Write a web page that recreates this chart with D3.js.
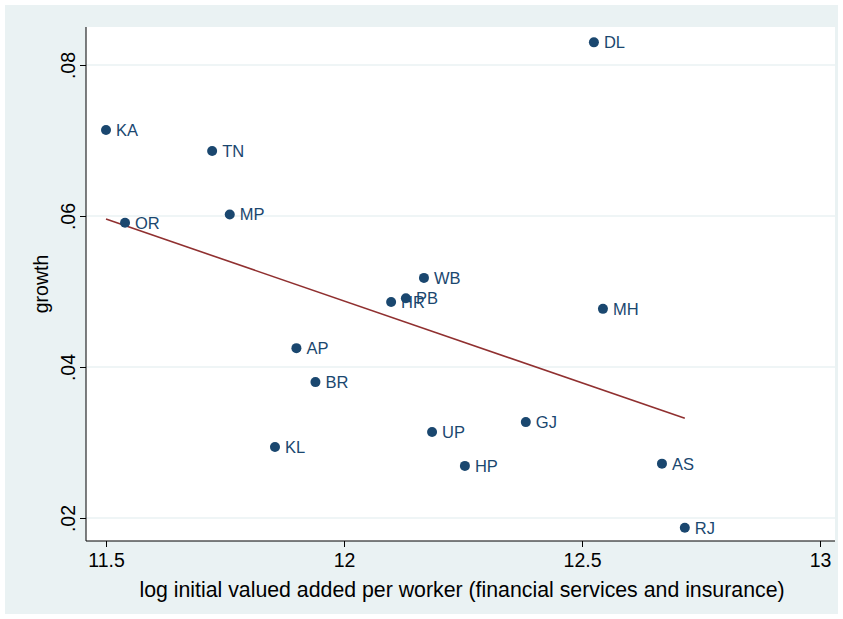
<!DOCTYPE html>
<html><head><meta charset="utf-8">
<script src="https://cdn.jsdelivr.net/npm/d3@7"></script>
<style>body{margin:0;background:#fff}text{font-family:"Liberation Sans",Arial,sans-serif}</style>
</head><body><svg id="c" width="843" height="619"></svg>
<script>
const states = ["DL","KA","TN","MP","OR","WB","PB","HR","MH","AP","BR","GJ","UP","KL","HP","AS","RJ"];
const logVA = [12.525,11.5,11.723,11.76,11.54,12.168,12.13,12.099,12.544,11.90,11.94,12.382,12.185,11.855,12.254,12.668,12.716];
const growth = [.0830,.0714,.0686,.0602,.0591,.0518,.0491,.0486,.0477,.0425,.0380,.0327,.0314,.0294,.0269,.0272,.0187];
const fitX = [11.5,12.716];
const fitY = [.0596,.0332];
const xTicks = [11.5,12,12.5,13];
const yTicks = [.02,.04,.06,.08];

const svg = d3.select("#c");
svg.append("rect").attr("x",5).attr("y",5).attr("width",833).attr("height",609).attr("fill","#eaf2f3");
const m = {l:86,r:835,t:27,b:541};
svg.append("rect").attr("x",m.l).attr("y",m.t).attr("width",m.r-m.l).attr("height",m.b-m.t).attr("fill","#fff");
const x = d3.scaleLinear().domain([11.5,13]).range([106,820]);
const y = d3.scaleLinear().domain([.02,.08]).range([518,65]);
svg.append("g").selectAll("line").data(yTicks).join("line")
  .attr("x1",m.l).attr("x2",m.r).attr("y1",d=>y(d)).attr("y2",d=>y(d)).attr("stroke","#eaf2f3").attr("stroke-width",1.5);
const fmtY = d=>d3.format(".2f")(d).replace(/^0/,"");
const gx = svg.append("g").attr("transform",`translate(0,${m.b})`)
  .call(d3.axisBottom(x).tickValues(xTicks).tickFormat(d=>String(d)).tickSize(6).tickSizeOuter(0));
gx.select(".domain").attr("d",`M${m.l},0H${m.r}`);
gx.selectAll("text").attr("font-size",19.5).attr("fill","#000").attr("dy","0.85em");
const gy = svg.append("g").attr("transform",`translate(${m.l},0)`)
  .call(d3.axisLeft(y).tickValues(yTicks).tickFormat(fmtY).tickSize(6).tickSizeOuter(0));
gy.select(".domain").attr("d",`M0,${m.t}V${m.b}`);
gy.selectAll("text").attr("font-size",19.5).attr("fill","#000")
  .attr("x",0).attr("y",0).attr("dy",0).attr("text-anchor","middle")
  .attr("transform","translate(-11,0) rotate(-90)");
svg.append("text").attr("x",462).attr("y",597).attr("text-anchor","middle").attr("font-size",21.3)
  .text("log initial valued added per worker (financial services and insurance)");
svg.append("text").attr("transform",`translate(48,${(m.t+m.b)/2}) rotate(-90)`).attr("text-anchor","middle").attr("font-size",19.5).text("growth");
svg.append("line").attr("x1",x(fitX[0])).attr("y1",y(fitY[0])).attr("x2",x(fitX[1])).attr("y2",y(fitY[1]))
  .attr("stroke","#903030").attr("stroke-width",1.6);
const pts = states.map((s,i)=>({s,x:logVA[i],y:growth[i]}));
svg.append("g").selectAll("circle").data(pts).join("circle")
  .attr("cx",d=>x(d.x)).attr("cy",d=>y(d.y)).attr("r",5).attr("fill","#1a476f");
svg.append("g").selectAll("text").data(pts).join("text")
  .attr("x",d=>x(d.x)+10).attr("y",d=>y(d.y)+6).attr("font-size",16.5).attr("fill","#1a476f").text(d=>d.s);
</script></body></html>
